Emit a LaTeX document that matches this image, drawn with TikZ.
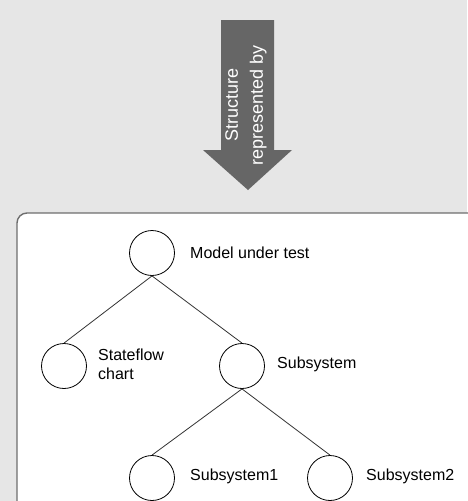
\documentclass[tikz,border=0pt]{standalone}
\usepackage{fontspec}
\setmainfont{Liberation Sans}
\definecolor{bg}{HTML}{E6E6E6}
\definecolor{arrowgray}{HTML}{666666}
\definecolor{boxgray}{HTML}{6E6E6E}
\begin{document}
\begin{tikzpicture}[x=1pt,y=-1pt,
  every node/.style={font=\fontsize{16}{19}\selectfont},
  treenode/.style={circle,draw=black,fill=white,line width=0.8pt,minimum size=45pt,inner sep=0pt},
  lbl/.style={anchor=west,align=left,inner sep=0pt},
  edge/.style={draw=black!80,line width=0.8pt}]
\useasboundingbox (0,0) rectangle (467,501);
\fill[bg] (0,0) rectangle (467,501);
% arrow
\fill[arrowgray] (221,20) -- (274,20) -- (274,150) -- (292,150) -- (248,190) -- (203,150) -- (221,150) -- cycle;
\node[rotate=90,text=white,align=center,font=\fontsize{18}{25}\selectfont] (arrowtext) at (246,105) {Structure\\represented by};
% box
\draw[boxgray,fill=white,line width=1.4pt,rounded corners=10pt] (17,520) -- (17,213) -- (478,213) -- (478,520);
% nodes
\node[treenode] (mut) at (152,253) {};
\node[treenode] (sf) at (64,366) {};
\node[treenode] (sub) at (242,366) {};
\node[treenode] (s1) at (152,478) {};
\node[treenode] (s2) at (330,478) {};
\draw[edge] (mut.south) -- (sf.north);
\draw[edge] (mut.south) -- (sub.north);
\draw[edge] (sub.south) -- (s1.north);
\draw[edge] (sub.south) -- (s2.north);
% labels
\node[lbl] (lmut) at (190,253) {Model under test};
\node[lbl] (lsf) at (98,364) {Stateflow\\chart};
\node[lbl] (lsub) at (277,364) {Subsystem};
\node[lbl] (ls1) at (190,476) {Subsystem1};
\node[lbl] (ls2) at (366,476) {Subsystem2};
\end{tikzpicture}
\end{document}
